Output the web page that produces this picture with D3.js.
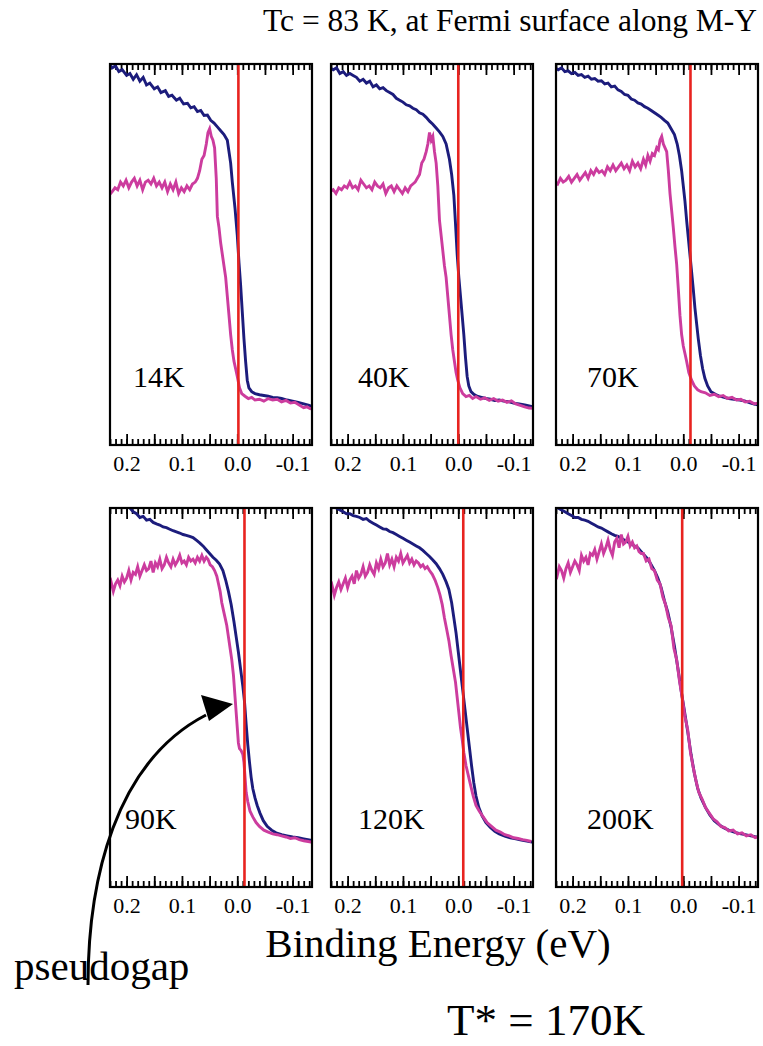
<!DOCTYPE html>
<html>
<head>
<meta charset="utf-8">
<script src="https://cdn.jsdelivr.net/npm/d3@7"></script>
<style>
  html, body { margin: 0; padding: 0; background: #fff; }
  svg { display: block; }
  text { font-family: "Liberation Serif", "Times New Roman", serif; fill: #000; }
</style>
</head>
<body>
<svg id="chart" width="763" height="1046"></svg>
<script>
// ---------------- DATA ----------------
const titleText = "Tc = 83 K, at Fermi surface along M-Y";
const xAxisTitle = "Binding Energy (eV)";
const noteText = "pseudogap";
const tStarText = "T* = 170K";
const temperatures = ["14K", "40K", "70K", "90K", "120K", "200K"];
const tickLabels = [0.2, 0.1, 0.0, -0.1];
const minorTicks = [0.23,0.22,0.21,0.20,0.19,0.18,0.17,0.16,0.15,0.14,0.13,0.12,0.11,0.10,0.09,0.08,0.07,0.06,0.05,0.04,0.03,0.02,0.01,0.0,-0.01,-0.02,-0.03,-0.04,-0.05,-0.06,-0.07,-0.08,-0.09,-0.10,-0.11,-0.12,-0.13];
const majorTicks = [0.2, 0.15, 0.1, 0.05, 0.0, -0.05, -0.1];
// Fermi level marker (red line) as read in each panel
const fermiLine = [-0.002, 0.0, -0.013, -0.013, -0.009, 0.002];

// Blue: reference spectrum; Pink: spectrum at the given temperature
const blue14 = [[0.232,1.0],[0.226,0.99],[0.220,0.995],[0.214,0.98],[0.208,0.985],[0.200,0.97],[0.194,0.975],[0.188,0.96],[0.182,0.972],[0.176,0.955],[0.170,0.965],[0.164,0.945],[0.158,0.95],[0.150,0.935],[0.144,0.94],[0.138,0.925],[0.130,0.93],[0.124,0.915],[0.118,0.918],[0.110,0.905],[0.104,0.91],[0.097,0.895],[0.090,0.897],[0.084,0.885],[0.078,0.888],[0.072,0.875],[0.066,0.878],[0.060,0.865],[0.054,0.866],[0.048,0.852],[0.042,0.845],[0.036,0.835],[0.030,0.825],[0.024,0.815],[0.018,0.80],[0.012,0.74],[0.009,0.69],[0.004,0.62],[0.0,0.55],[-0.003,0.48],[-0.006,0.42],[-0.009,0.35],[-0.012,0.28],[-0.015,0.22],[-0.018,0.17],[-0.021,0.15],[-0.026,0.14],[-0.032,0.135],[-0.040,0.132],[-0.048,0.13],[-0.056,0.128],[-0.064,0.125],[-0.072,0.124],[-0.080,0.122],[-0.090,0.118],[-0.100,0.115],[-0.110,0.112],[-0.120,0.108],[-0.130,0.104],[-0.137,0.10]];
const pink14 = [[0.232,0.655],[0.226,0.665],[0.221,0.675],[0.216,0.67],[0.211,0.69],[0.206,0.68],[0.201,0.695],[0.196,0.675],[0.191,0.69],[0.186,0.70],[0.181,0.68],[0.176,0.695],[0.171,0.67],[0.166,0.69],[0.161,0.695],[0.156,0.685],[0.151,0.70],[0.146,0.68],[0.141,0.69],[0.136,0.675],[0.131,0.69],[0.126,0.665],[0.121,0.685],[0.116,0.67],[0.111,0.69],[0.106,0.66],[0.101,0.675],[0.096,0.665],[0.091,0.68],[0.086,0.67],[0.081,0.685],[0.076,0.69],[0.072,0.70],[0.068,0.72],[0.064,0.75],[0.060,0.76],[0.056,0.79],[0.053,0.82],[0.050,0.83],[0.047,0.81],[0.044,0.80],[0.041,0.78],[0.038,0.70],[0.036,0.60],[0.033,0.57],[0.030,0.53],[0.027,0.50],[0.024,0.47],[0.021,0.44],[0.018,0.39],[0.015,0.34],[0.012,0.29],[0.009,0.25],[0.006,0.22],[0.003,0.20],[0.0,0.18],[-0.004,0.15],[-0.008,0.135],[-0.014,0.128],[-0.020,0.122],[-0.026,0.125],[-0.032,0.118],[-0.040,0.12],[-0.048,0.115],[-0.056,0.122],[-0.064,0.118],[-0.072,0.12],[-0.080,0.113],[-0.088,0.117],[-0.096,0.11],[-0.104,0.112],[-0.112,0.105],[-0.120,0.098],[-0.126,0.10],[-0.132,0.095],[-0.137,0.097]];
const blue40 = [[0.232,0.99],[0.226,0.985],[0.220,0.99],[0.214,0.975],[0.208,0.98],[0.202,0.97],[0.196,0.975],[0.190,0.97],[0.184,0.965],[0.178,0.955],[0.172,0.96],[0.166,0.95],[0.160,0.955],[0.154,0.94],[0.148,0.945],[0.142,0.935],[0.136,0.938],[0.130,0.93],[0.124,0.925],[0.118,0.92],[0.112,0.91],[0.106,0.905],[0.100,0.90],[0.094,0.893],[0.088,0.89],[0.082,0.884],[0.076,0.88],[0.070,0.872],[0.064,0.868],[0.058,0.86],[0.052,0.85],[0.046,0.842],[0.040,0.832],[0.034,0.822],[0.028,0.81],[0.022,0.79],[0.016,0.75],[0.012,0.71],[0.008,0.655],[0.005,0.58],[0.002,0.50],[-0.001,0.44],[-0.004,0.39],[-0.007,0.34],[-0.010,0.29],[-0.013,0.23],[-0.016,0.18],[-0.019,0.155],[-0.023,0.14],[-0.028,0.133],[-0.034,0.128],[-0.042,0.125],[-0.050,0.122],[-0.058,0.12],[-0.066,0.117],[-0.074,0.118],[-0.082,0.115],[-0.090,0.114],[-0.100,0.11],[-0.110,0.108],[-0.120,0.105],[-0.130,0.102],[-0.137,0.10]];
const pink40 = [[0.232,0.665],[0.226,0.67],[0.221,0.66],[0.216,0.675],[0.211,0.67],[0.206,0.68],[0.201,0.675],[0.196,0.69],[0.191,0.675],[0.186,0.68],[0.181,0.67],[0.176,0.695],[0.171,0.685],[0.166,0.675],[0.161,0.68],[0.156,0.67],[0.151,0.69],[0.146,0.68],[0.141,0.675],[0.136,0.685],[0.131,0.66],[0.126,0.675],[0.121,0.68],[0.116,0.665],[0.111,0.68],[0.106,0.67],[0.101,0.66],[0.096,0.675],[0.091,0.665],[0.086,0.68],[0.082,0.685],[0.078,0.69],[0.074,0.70],[0.070,0.71],[0.066,0.74],[0.062,0.75],[0.058,0.77],[0.055,0.79],[0.052,0.82],[0.049,0.80],[0.046,0.81],[0.043,0.77],[0.040,0.74],[0.037,0.68],[0.034,0.59],[0.031,0.55],[0.028,0.51],[0.025,0.47],[0.022,0.44],[0.019,0.39],[0.016,0.34],[0.013,0.29],[0.010,0.25],[0.007,0.22],[0.004,0.19],[0.001,0.17],[-0.003,0.15],[-0.008,0.135],[-0.014,0.127],[-0.020,0.13],[-0.026,0.122],[-0.032,0.127],[-0.040,0.12],[-0.048,0.124],[-0.056,0.117],[-0.064,0.122],[-0.072,0.115],[-0.080,0.118],[-0.088,0.112],[-0.096,0.116],[-0.104,0.108],[-0.112,0.104],[-0.120,0.10],[-0.128,0.097],[-0.136,0.096]];
const blue70 = [[0.232,0.99],[0.226,0.985],[0.220,0.99],[0.214,0.98],[0.208,0.982],[0.202,0.975],[0.196,0.978],[0.190,0.97],[0.184,0.972],[0.178,0.965],[0.172,0.968],[0.166,0.96],[0.160,0.962],[0.154,0.955],[0.148,0.956],[0.142,0.948],[0.136,0.95],[0.130,0.94],[0.124,0.942],[0.118,0.932],[0.112,0.928],[0.106,0.92],[0.100,0.918],[0.094,0.908],[0.088,0.905],[0.082,0.898],[0.076,0.895],[0.070,0.888],[0.064,0.884],[0.058,0.878],[0.052,0.872],[0.046,0.866],[0.040,0.86],[0.034,0.852],[0.028,0.845],[0.022,0.83],[0.016,0.815],[0.011,0.79],[0.007,0.76],[0.003,0.72],[0.0,0.68],[-0.003,0.64],[-0.006,0.59],[-0.009,0.545],[-0.012,0.50],[-0.015,0.455],[-0.018,0.41],[-0.021,0.36],[-0.024,0.32],[-0.027,0.28],[-0.031,0.235],[-0.035,0.20],[-0.039,0.175],[-0.044,0.155],[-0.050,0.14],[-0.058,0.133],[-0.066,0.128],[-0.074,0.125],[-0.082,0.122],[-0.092,0.12],[-0.102,0.118],[-0.112,0.115],[-0.122,0.11],[-0.130,0.107],[-0.137,0.104]];
const pink70 = [[0.232,0.69],[0.227,0.685],[0.222,0.70],[0.217,0.69],[0.212,0.695],[0.207,0.705],[0.202,0.69],[0.197,0.70],[0.192,0.71],[0.187,0.695],[0.182,0.705],[0.177,0.715],[0.172,0.70],[0.167,0.72],[0.162,0.71],[0.157,0.725],[0.152,0.715],[0.147,0.72],[0.142,0.71],[0.137,0.73],[0.132,0.72],[0.127,0.735],[0.122,0.72],[0.117,0.73],[0.112,0.74],[0.107,0.725],[0.102,0.735],[0.097,0.72],[0.092,0.745],[0.087,0.73],[0.082,0.74],[0.077,0.725],[0.072,0.75],[0.068,0.735],[0.064,0.76],[0.060,0.745],[0.056,0.765],[0.052,0.76],[0.048,0.78],[0.045,0.775],[0.042,0.80],[0.039,0.81],[0.036,0.79],[0.033,0.78],[0.030,0.77],[0.027,0.72],[0.024,0.66],[0.021,0.615],[0.018,0.57],[0.015,0.52],[0.012,0.475],[0.009,0.41],[0.006,0.34],[0.003,0.29],[0.0,0.26],[-0.003,0.24],[-0.006,0.22],[-0.010,0.19],[-0.015,0.17],[-0.020,0.155],[-0.026,0.145],[-0.032,0.14],[-0.040,0.137],[-0.048,0.13],[-0.056,0.133],[-0.064,0.127],[-0.072,0.13],[-0.080,0.122],[-0.088,0.125],[-0.096,0.118],[-0.104,0.12],[-0.112,0.113],[-0.120,0.115],[-0.128,0.108],[-0.136,0.11]];
const blue90 = [[0.232,1.04],[0.224,1.03],[0.216,1.02],[0.208,1.01],[0.200,1.005],[0.194,1.0],[0.188,0.99],[0.182,0.985],[0.176,0.975],[0.170,0.978],[0.164,0.968],[0.158,0.97],[0.152,0.962],[0.146,0.958],[0.140,0.955],[0.134,0.95],[0.128,0.948],[0.122,0.944],[0.116,0.94],[0.110,0.937],[0.104,0.934],[0.098,0.93],[0.092,0.928],[0.086,0.925],[0.080,0.922],[0.074,0.915],[0.068,0.908],[0.062,0.90],[0.056,0.89],[0.050,0.88],[0.044,0.87],[0.038,0.862],[0.032,0.852],[0.026,0.835],[0.021,0.81],[0.016,0.78],[0.011,0.745],[0.006,0.70],[0.002,0.66],[-0.002,0.62],[-0.006,0.575],[-0.010,0.53],[-0.013,0.49],[-0.016,0.43],[-0.019,0.375],[-0.022,0.33],[-0.025,0.29],[-0.028,0.26],[-0.032,0.235],[-0.036,0.215],[-0.041,0.195],[-0.047,0.175],[-0.054,0.16],[-0.062,0.15],[-0.070,0.143],[-0.080,0.138],[-0.090,0.135],[-0.100,0.132],[-0.110,0.13],[-0.120,0.127],[-0.130,0.124],[-0.137,0.122]];
const pink90 = [[0.232,0.79],[0.228,0.805],[0.224,0.78],[0.220,0.80],[0.216,0.81],[0.212,0.795],[0.208,0.82],[0.204,0.805],[0.200,0.815],[0.196,0.835],[0.192,0.81],[0.188,0.83],[0.184,0.825],[0.180,0.845],[0.176,0.82],[0.172,0.835],[0.168,0.85],[0.164,0.835],[0.160,0.84],[0.156,0.86],[0.152,0.83],[0.148,0.855],[0.144,0.845],[0.140,0.865],[0.136,0.84],[0.132,0.85],[0.128,0.87],[0.124,0.855],[0.120,0.845],[0.116,0.865],[0.112,0.85],[0.108,0.86],[0.104,0.875],[0.100,0.855],[0.096,0.86],[0.092,0.85],[0.088,0.87],[0.084,0.86],[0.080,0.865],[0.076,0.855],[0.072,0.87],[0.068,0.86],[0.064,0.875],[0.060,0.86],[0.056,0.87],[0.053,0.865],[0.049,0.85],[0.045,0.845],[0.041,0.835],[0.037,0.82],[0.034,0.80],[0.031,0.78],[0.028,0.75],[0.025,0.73],[0.022,0.71],[0.019,0.69],[0.016,0.66],[0.013,0.63],[0.010,0.60],[0.007,0.56],[0.004,0.50],[0.001,0.44],[-0.002,0.38],[-0.004,0.365],[-0.007,0.36],[-0.010,0.35],[-0.012,0.33],[-0.014,0.29],[-0.016,0.25],[-0.019,0.225],[-0.023,0.20],[-0.028,0.185],[-0.034,0.17],[-0.040,0.16],[-0.048,0.15],[-0.056,0.145],[-0.064,0.14],[-0.072,0.138],[-0.080,0.135],[-0.088,0.132],[-0.096,0.128],[-0.104,0.13],[-0.112,0.125],[-0.120,0.122],[-0.128,0.12],[-0.136,0.118]];
const blue120 = [[0.232,1.02],[0.226,1.01],[0.220,1.0],[0.214,0.995],[0.208,0.99],[0.202,0.985],[0.196,0.985],[0.190,0.98],[0.184,0.978],[0.178,0.975],[0.172,0.97],[0.166,0.972],[0.160,0.965],[0.154,0.96],[0.148,0.955],[0.142,0.95],[0.136,0.945],[0.130,0.944],[0.124,0.938],[0.118,0.935],[0.112,0.93],[0.106,0.925],[0.100,0.92],[0.094,0.915],[0.088,0.91],[0.082,0.905],[0.076,0.90],[0.070,0.895],[0.064,0.888],[0.058,0.88],[0.052,0.872],[0.046,0.863],[0.040,0.853],[0.034,0.84],[0.028,0.825],[0.022,0.805],[0.017,0.785],[0.012,0.75],[0.008,0.71],[0.004,0.67],[0.0,0.62],[-0.004,0.57],[-0.008,0.52],[-0.012,0.47],[-0.016,0.42],[-0.020,0.37],[-0.024,0.32],[-0.028,0.275],[-0.032,0.24],[-0.037,0.21],[-0.043,0.188],[-0.050,0.17],[-0.058,0.157],[-0.066,0.147],[-0.074,0.14],[-0.084,0.134],[-0.094,0.13],[-0.104,0.127],[-0.114,0.124],[-0.124,0.121],[-0.136,0.118]];
const pink120 = [[0.232,0.78],[0.228,0.795],[0.224,0.77],[0.220,0.79],[0.216,0.805],[0.212,0.785],[0.208,0.80],[0.204,0.815],[0.200,0.79],[0.196,0.81],[0.192,0.82],[0.188,0.80],[0.184,0.835],[0.180,0.815],[0.176,0.825],[0.172,0.845],[0.168,0.82],[0.164,0.83],[0.160,0.85],[0.156,0.835],[0.152,0.825],[0.148,0.855],[0.144,0.84],[0.140,0.865],[0.136,0.845],[0.132,0.855],[0.128,0.88],[0.124,0.85],[0.120,0.865],[0.116,0.845],[0.112,0.87],[0.108,0.86],[0.104,0.88],[0.100,0.855],[0.096,0.865],[0.092,0.875],[0.088,0.855],[0.084,0.865],[0.080,0.85],[0.076,0.86],[0.072,0.855],[0.068,0.845],[0.064,0.85],[0.060,0.84],[0.056,0.845],[0.052,0.835],[0.047,0.825],[0.042,0.81],[0.037,0.79],[0.033,0.77],[0.029,0.745],[0.025,0.71],[0.021,0.68],[0.017,0.65],[0.013,0.61],[0.009,0.575],[0.005,0.54],[0.002,0.50],[-0.001,0.46],[-0.004,0.42],[-0.007,0.39],[-0.010,0.355],[-0.014,0.32],[-0.018,0.295],[-0.022,0.27],[-0.027,0.24],[-0.032,0.215],[-0.038,0.20],[-0.045,0.185],[-0.052,0.17],[-0.060,0.16],[-0.068,0.15],[-0.076,0.145],[-0.084,0.138],[-0.092,0.135],[-0.100,0.13],[-0.108,0.128],[-0.116,0.125],[-0.124,0.123],[-0.132,0.12]];
const blue200 = [[0.232,1.01],[0.226,1.0],[0.220,0.995],[0.214,0.99],[0.208,0.985],[0.202,0.98],[0.196,0.975],[0.190,0.975],[0.184,0.97],[0.178,0.968],[0.172,0.965],[0.166,0.96],[0.160,0.955],[0.154,0.95],[0.148,0.947],[0.142,0.942],[0.136,0.937],[0.130,0.932],[0.124,0.928],[0.118,0.925],[0.112,0.92],[0.106,0.915],[0.100,0.91],[0.094,0.905],[0.088,0.90],[0.082,0.895],[0.076,0.885],[0.070,0.875],[0.064,0.865],[0.058,0.85],[0.052,0.835],[0.046,0.815],[0.040,0.79],[0.034,0.755],[0.028,0.725],[0.022,0.685],[0.016,0.635],[0.010,0.58],[0.004,0.52],[-0.002,0.465],[-0.008,0.41],[-0.014,0.35],[-0.020,0.30],[-0.026,0.26],[-0.032,0.235],[-0.040,0.21],[-0.048,0.19],[-0.056,0.175],[-0.064,0.165],[-0.072,0.157],[-0.082,0.15],[-0.092,0.145],[-0.102,0.141],[-0.112,0.138],[-0.122,0.135],[-0.130,0.133],[-0.137,0.132]];
const pink200 = [[0.232,0.83],[0.228,0.82],[0.224,0.845],[0.220,0.835],[0.216,0.815],[0.212,0.84],[0.208,0.855],[0.204,0.83],[0.200,0.845],[0.196,0.86],[0.192,0.85],[0.188,0.835],[0.184,0.875],[0.180,0.86],[0.176,0.87],[0.172,0.85],[0.168,0.88],[0.164,0.875],[0.160,0.89],[0.156,0.865],[0.152,0.885],[0.148,0.905],[0.144,0.88],[0.140,0.895],[0.136,0.915],[0.132,0.89],[0.128,0.875],[0.124,0.91],[0.120,0.92],[0.116,0.895],[0.112,0.93],[0.108,0.905],[0.104,0.91],[0.100,0.925],[0.096,0.90],[0.092,0.91],[0.088,0.895],[0.084,0.90],[0.080,0.885],[0.076,0.88],[0.072,0.88],[0.067,0.86],[0.062,0.865],[0.057,0.84],[0.052,0.835],[0.047,0.81],[0.042,0.80],[0.037,0.765],[0.032,0.745],[0.027,0.71],[0.022,0.69],[0.017,0.63],[0.012,0.60],[0.007,0.545],[0.002,0.50],[-0.003,0.45],[-0.008,0.415],[-0.013,0.355],[-0.018,0.315],[-0.023,0.28],[-0.028,0.25],[-0.034,0.232],[-0.040,0.21],[-0.047,0.195],[-0.054,0.18],[-0.061,0.172],[-0.068,0.16],[-0.075,0.157],[-0.082,0.148],[-0.090,0.15],[-0.098,0.14],[-0.106,0.143],[-0.114,0.135],[-0.122,0.138],[-0.130,0.13],[-0.136,0.133]];

const blueSeries = [blue14, blue40, blue70, blue90, blue120, blue200];
const pinkSeries = [pink14, pink40, pink70, pink90, pink120, pink200];

// ---------------- LAYOUT ----------------
const colX = [110, 331, 556];
const rowY = [64, 508];
const rowH = [381, 379];
const panelW = 202;
const xDomain = [0.23, -0.135];
const yDomain = [0, 1];
const labelDx = [23, 27, 31, 15, 27, 31];

const COLORS = { blue: "#1c1c7c", pink: "#cc3c9e", red: "#e8231f", frame: "#000" };

const svg = d3.select("#chart");

svg.append("text")
  .attr("x", 263).attr("y", 31)
  .style("font-size", "31.5px")
  .text(titleText);

const defs = svg.append("defs");

temperatures.forEach((t, i) => {
  const col = i % 3, row = Math.floor(i / 3);
  const x0 = colX[col], y0 = rowY[row], h = rowH[row];
  const x = d3.scaleLinear().domain(xDomain).range([0, panelW]);
  const y = d3.scaleLinear().domain(yDomain).range([h, 0]);

  const g = svg.append("g").attr("transform", `translate(${x0},${y0})`);

  defs.append("clipPath").attr("id", "clip" + i)
    .append("rect").attr("x", 0).attr("y", 0).attr("width", panelW).attr("height", h);

  // ticks (inward, top and bottom)
  const minorB = d3.axisBottom(x).tickValues(minorTicks).tickSize(-6).tickFormat("");
  const majorB = d3.axisBottom(x).tickValues(majorTicks).tickSize(-11).tickFormat("");
  const minorT = d3.axisTop(x).tickValues(minorTicks).tickSize(-6).tickFormat("");
  const majorT = d3.axisTop(x).tickValues(majorTicks).tickSize(-11).tickFormat("");
  [[minorB, h], [majorB, h], [minorT, 0], [majorT, 0]].forEach(([ax, yy]) => {
    const a = g.append("g").attr("transform", `translate(0,${yy})`).call(ax);
    a.select(".domain").remove();
    a.selectAll("line").attr("stroke", "#000").attr("stroke-width", 1.8);
  });

  // tick labels
  const lab = g.append("g").attr("transform", `translate(0,${h})`)
    .call(d3.axisBottom(x).tickValues(tickLabels).tickSize(0).tickPadding(0)
      .tickFormat(d => d.toFixed(1)));
  lab.select(".domain").remove();
  lab.selectAll("text")
    .attr("y", 26).attr("dy", 0)
    .style("font-size", "22px")
    .style("font-family", '"Liberation Serif", "Times New Roman", serif')
    .attr("fill", "#000");

  const plot = g.append("g").attr("clip-path", `url(#clip${i})`);
  const line = d3.line().x(d => x(d[0])).y(d => y(d[1])).curve(d3.curveLinear);

  plot.append("path").datum(blueSeries[i])
    .attr("d", line).attr("fill", "none")
    .attr("stroke", COLORS.blue).attr("stroke-width", 2.9).attr("stroke-linejoin", "miter");

  plot.append("path").datum(pinkSeries[i])
    .attr("d", line).attr("fill", "none")
    .attr("stroke", COLORS.pink).attr("stroke-width", 2.9).attr("stroke-linejoin", "miter");

  // Fermi level
  g.append("line")
    .attr("x1", x(fermiLine[i])).attr("x2", x(fermiLine[i]))
    .attr("y1", 0).attr("y2", h)
    .attr("stroke", COLORS.red).attr("stroke-width", 2.6);

  // frame
  g.append("rect").attr("x", 0).attr("y", 0).attr("width", panelW).attr("height", h)
    .attr("fill", "none").attr("stroke", COLORS.frame).attr("stroke-width", 2.2);

  g.append("text")
    .attr("x", labelDx[i]).attr("y", h - 58)
    .style("font-size", "30px")
    .text(t);
});

// axis title
svg.append("text")
  .attr("x", 438).attr("y", 957)
  .attr("text-anchor", "middle")
  .style("font-size", "41px")
  .text(xAxisTitle);

// pseudogap annotation
svg.append("text")
  .attr("x", 14).attr("y", 980)
  .style("font-size", "41px")
  .text(noteText);

svg.append("path")
  .attr("d", "M 88 985 C 88 880, 115 762, 206 715")
  .attr("fill", "none").attr("stroke", "#000").attr("stroke-width", 3);
svg.append("path")
  .attr("d", "M 233 704 L 201 695 L 209 721 Z")
  .attr("fill", "#000");

svg.append("text")
  .attr("x", 546).attr("y", 1035)
  .attr("text-anchor", "middle")
  .style("font-size", "45px")
  .text(tStarText);
</script>
</body>
</html>
